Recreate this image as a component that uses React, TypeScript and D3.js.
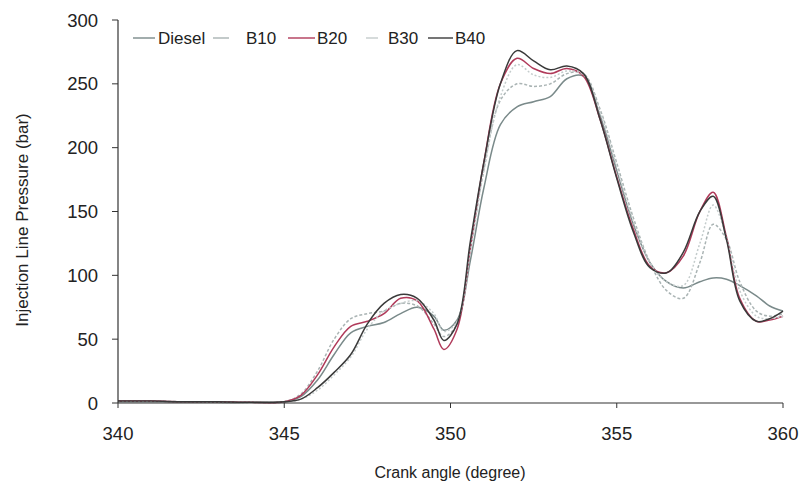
import React from "react";
import * as d3 from "d3";

const angles = [340, 341, 342, 343, 344, 345, 345.5, 346, 346.5, 347, 347.5, 348, 348.5, 349, 349.5, 349.8, 350.2, 350.6, 351, 351.5, 352, 352.5, 353, 353.5, 354, 354.5, 355, 355.5, 356, 356.5, 357, 357.5, 357.9, 358.3, 358.7, 359.2, 359.6, 360];

const diesel = [1, 1, 1, 0.5, 0.5, 1, 5, 18, 38, 55, 60, 63, 70, 75, 68, 57, 65, 112, 168, 218, 232, 236, 240, 254, 256, 225, 182, 140, 110, 95, 90, 95, 98, 97, 92, 84, 76, 72];
const b10 = [1.5, 1.5, 1, 1, 0.5, 1, 7, 25, 50, 66, 70, 72, 78, 76, 62, 52, 62, 120, 182, 237, 250, 248, 250, 258, 258, 230, 188, 145, 110, 88, 82, 110, 140, 128, 95, 72, 68, 70];
const b20 = [1.5, 1.5, 1, 1, 0.5, 1, 6, 22, 44, 60, 64, 70, 82, 80, 58, 42, 58, 122, 188, 250, 270, 262, 258, 262, 256, 222, 177, 136, 107, 102, 115, 150, 165, 130, 82, 64, 65, 68];
const b30 = [1, 1, 1, 0.5, 0.5, 1, 3, 10, 22, 36, 58, 72, 78, 80, 70, 56, 64, 120, 182, 240, 265, 257, 255, 260, 257, 228, 185, 142, 110, 95, 92, 125, 155, 130, 88, 68, 66, 68];
const b40 = [1.5, 1.5, 1, 1, 0.5, 1, 3, 12, 24, 38, 62, 78, 85, 82, 65, 49, 62, 127, 188, 250, 276, 268, 261, 264, 258, 222, 176, 134, 106, 102, 118, 150, 162, 128, 80, 64, 66, 72];

const seriesNames = ["Diesel", "B10", "B20", "B30", "B40"];
const seriesValues = [diesel, b10, b20, b30, b40];
const seriesColors = ["#7a8a8a", "#aab4b4", "#b03a5a", "#c4cccc", "#3a3a3a"];
const seriesDash = ["", "3,2", "", "2,2", ""];

const xTicks = [340, 345, 350, 355, 360];
const yTicks = [0, 50, 100, 150, 200, 250, 300];

const W = 803;
const H = 491;
const margin = { left: 118, right: 20, top: 20, bottom: 88 };

export default function App() {
  const x = d3.scaleLinear().domain([340, 360]).range([margin.left, W - margin.right]);
  const y = d3.scaleLinear().domain([0, 300]).range([H - margin.bottom, margin.top]);
  const line = d3
    .line<number>()
    .x((_, i) => x(angles[i]))
    .y((d) => y(d))
    .curve(d3.curveCatmullRom.alpha(0.5));

  const font = "'Liberation Sans', Arial, sans-serif";
  const legendItems = [
    { lx: 133, lw: 22, tx: 158 },
    { lx: 213, lw: 16, tx: 246 },
    { lx: 288, lw: 27, tx: 317 },
    { lx: 366, lw: 12, tx: 388 },
    { lx: 428, lw: 25, tx: 455 },
  ];

  return (
    <svg width={W} height={H} style={{ position: "absolute", left: 0, top: 0, background: "#fff" }}>
      {seriesValues.map((vals, i) => (
        <path
          key={seriesNames[i]}
          d={line(vals) || ""}
          fill="none"
          stroke={seriesColors[i]}
          strokeWidth={1.5}
          strokeDasharray={seriesDash[i]}
        />
      ))}
      <line x1={x(340)} x2={x(360)} y1={y(0)} y2={y(0)} stroke="#333" strokeWidth={1.2} />
      <line x1={x(340)} x2={x(340)} y1={y(0)} y2={y(300)} stroke="#333" strokeWidth={1.2} />
      {yTicks.map((t) => (
        <g key={"y" + t}>
          <line x1={x(340) - 6} x2={x(340)} y1={y(t)} y2={y(t)} stroke="#333" strokeWidth={1} />
          <text x={x(340) - 20} y={y(t)} dy="0.36em" textAnchor="end" fontSize={18.5} fontFamily={font} fill="#222">
            {t}
          </text>
        </g>
      ))}
      {xTicks.map((t) => (
        <g key={"x" + t}>
          <line x1={x(t)} x2={x(t)} y1={y(0)} y2={y(0) + 5} stroke="#333" strokeWidth={1} />
          <text x={x(t)} y={y(0) + 37} textAnchor="middle" fontSize={18.5} fontFamily={font} fill="#222">
            {t}
          </text>
        </g>
      ))}
      <text x={450} y={478} textAnchor="middle" fontSize={16} fontFamily={font} fill="#222">
        Crank angle (degree)
      </text>
      <text
        transform={`translate(28, 220) rotate(-90)`}
        textAnchor="middle"
        fontSize={17}
        fontFamily={font}
        fill="#222"
      >
        Injection Line Pressure (bar)
      </text>
      {seriesNames.map((n, i) => (
        <g key={"lg" + n}>
          <line
            x1={legendItems[i].lx}
            x2={legendItems[i].lx + legendItems[i].lw}
            y1={38}
            y2={38}
            stroke={seriesColors[i]}
            strokeWidth={1.4}
          />
          <text x={legendItems[i].tx} y={38} dy="0.36em" fontSize={17} fontFamily={font} fill="#222">
            {n}
          </text>
        </g>
      ))}
    </svg>
  );
}
